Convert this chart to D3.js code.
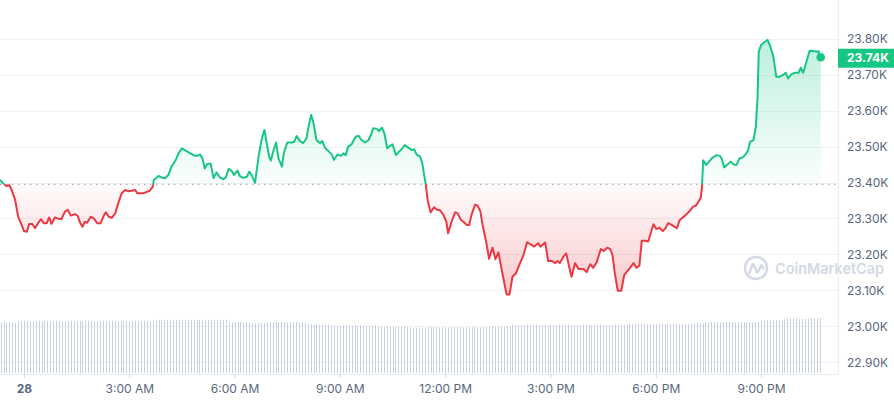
<!DOCTYPE html>
<html>
<head>
<meta charset="utf-8">
<script src="https://cdn.jsdelivr.net/npm/d3@7"></script>
<style>
  html, body { margin: 0; padding: 0; background: #fff; }
  svg { display: block; font-family: Inter, "Noto Sans", sans-serif; }
</style>
</head>
<body>
<svg id="chart" width="894" height="400"></svg>
<script>
// ---- data (minutes after midnight, 28 Jan) ----
const priceTimes = [-41,-36,-30,-25,-21,-15,-10,-4,0,5,9,14,19,24,29,34,39,43,47,53,59,64,70,75,80,87,92,96,100,104,108,114,120,125,131,137,140,145,150,156,161,167,173,178,184,190,194,198,204,210,215,220,222,230,235,241,247,252,259,264,270,275,281,287,292,296,301,305,309,313,319,324,329,335,341,345,350,355,359,365,369,375,381,385,389,395,401,406,411,415,419,422,426,431,435,441,444,450,458,462,466,472,477,483,487,491,495,500,506,510,515,520,526,530,536,542,546,550,554,560,567,572,577,583,589,593,597,603,607,612,616,621,626,630,636,641,646,651,657,663,667,671,677,681,684,687,690,695,701,706,711,717,722,725,731,737,741,747,751,757,761,765,771,775,780,784,790,795,801,806,811,815,819,825,830,835,841,848,854,860,866,872,879,883,891,896,902,908,912,916,922,927,932,936,942,948,956,962,968,973,979,986,991,997,1002,1006,1010,1015,1021,1026,1030,1036,1042,1047,1052,1056,1062,1067,1076,1081,1086,1092,1097,1101,1107,1116,1121,1130,1138,1144,1149,1153,1157,1159,1161,1166,1171,1177,1184,1190,1193,1197,1202,1208,1214,1218,1223,1229,1234,1238,1241,1247,1251,1254,1256,1260,1265,1271,1275,1281,1286,1292,1298,1302,1306,1312,1318,1324,1328,1332,1338,1343,1350,1355,1358,1362];
const prices = [23407,23398,23390,23393,23379,23351,23305,23282,23265,23263,23285,23285,23273,23287,23298,23287,23287,23303,23285,23303,23299,23298,23319,23324,23308,23312,23307,23288,23277,23291,23288,23305,23299,23287,23287,23310,23317,23305,23302,23314,23342,23370,23379,23376,23377,23379,23370,23370,23370,23374,23377,23388,23407,23418,23414,23412,23421,23444,23461,23481,23495,23490,23484,23479,23474,23474,23478,23467,23439,23451,23453,23412,23428,23414,23409,23414,23438,23432,23421,23433,23418,23413,23416,23430,23421,23399,23472,23518,23546,23509,23472,23461,23486,23511,23467,23444,23481,23511,23511,23513,23529,23515,23509,23523,23560,23588,23564,23518,23509,23515,23495,23488,23478,23463,23478,23474,23481,23476,23499,23506,23527,23530,23518,23511,23518,23532,23551,23549,23543,23552,23537,23495,23502,23506,23476,23486,23493,23504,23497,23490,23492,23478,23472,23453,23421,23393,23351,23317,23331,23324,23323,23310,23291,23259,23291,23317,23315,23296,23291,23282,23282,23310,23338,23336,23321,23282,23236,23188,23219,23187,23206,23171,23138,23089,23089,23138,23148,23176,23199,23234,23228,23222,23231,23222,23233,23182,23182,23176,23182,23176,23194,23203,23165,23138,23176,23160,23160,23151,23173,23163,23178,23215,23210,23219,23215,23199,23148,23099,23099,23143,23151,23163,23176,23163,23169,23238,23238,23236,23284,23271,23274,23265,23274,23287,23282,23273,23296,23308,23321,23333,23336,23347,23358,23388,23462,23449,23458,23469,23476,23474,23464,23442,23449,23458,23449,23449,23467,23470,23479,23490,23513,23518,23555,23638,23763,23782,23789,23796,23782,23749,23694,23694,23699,23705,23689,23701,23705,23705,23719,23705,23738,23766,23765,23763,23765,23748];
const referencePrice = 23395;

// volume bars (billions USD), one every 5 minutes from -40 min
const volumeStartMinute = -40;
const volumeStepMinutes = 5;
const volumes = [
 18.9,18.9,18.9,18.9,18.9,18.9,
 19.4,19.4,19.4,19.4,19.4,19.4,19.4,19.4,19.4,19.4,
 19.4,19.4,19.4,19.4,19.4,19.4,19.4,19.4,19.4,19.4,
 19.4,19.4,19.4,19.4,19.4,19.4,19.4,19.4,19.4,19.4,
 19.4,19.4,19.4,19.4,19.4,19.4,19.4,19.4,19.4,19.4,
 19.4,19.4,19.4,19.4,19.4,19.4,19.4,
 19.8,19.8,19.8,19.8,19.8,19.8,19.8,19.8,19.8,19.8,
 19.8,19.8,19.8,19.8,19.8,19.8,19.8,19.8,19.8,19.8,
 19.8,19.8,19.8,19.8,19.8,
 19.0,19.0,19.0,19.0,19.0,
 18.7,18.7,18.7,18.7,18.7,18.7,18.7,18.7,
 19.0,19.0,19.0,19.0,19.0,19.0,19.0,19.0,19.0,19.0,19.0,
 18.7,18.7,18.7,
 18.3,18.3,
 18.0,18.0,18.0,18.0,18.0,18.0,
 17.7,17.7,17.7,17.7,17.7,17.7,17.7,17.7,17.7,17.7,17.7,17.7,17.7,17.7,17.7,17.7,
 17.3,17.3,17.3,17.3,17.3,17.3,17.3,17.3,17.3,17.3,17.3,17.3,
 16.9,16.9,16.9,16.9,16.9,
 17.1,17.1,17.1,17.1,17.1,17.1,17.1,17.1,17.1,17.1,
 17.1,17.1,17.1,17.1,17.1,17.1,17.1,17.1,17.1,17.1,17.1,
 17.4,17.4,17.4,17.4,17.4,17.4,17.4,17.4,
 17.9,17.9,17.9,17.9,17.9,17.9,17.9,17.9,17.9,17.9,
 17.9,17.9,17.9,17.9,17.9,17.9,17.9,17.9,17.9,17.9,
 17.9,17.9,17.9,17.9,17.9,17.9,17.9,17.9,17.9,17.9,
 17.9,17.9,17.9,17.9,17.9,17.9,17.9,17.9,17.9,17.9,
 18.3,18.3,18.3,18.3,18.3,18.3,18.3,18.3,18.3,18.3,
 18.3,18.3,18.3,18.3,18.3,18.3,18.3,18.3,18.3,18.3,
 18.3,18.3,18.3,
 18.7,18.7,18.7,18.7,18.7,
 19.0,19.0,19.0,19.0,19.0,19.0,19.0,19.0,19.0,19.0,
 19.0,19.0,19.0,19.0,19.0,19.0,19.0,
 19.7,19.7,19.7,19.7,19.7,19.7,19.7,19.7,
 20.2,20.2,20.2,20.2,20.2,20.2,20.2,20.2,20.2,
 20.5,20.5,20.5,20.5
];

const yTickValues = [22900,23000,23100,23200,23300,23400,23500,23600,23700,23800];
const xTickHours = [0,3,6,9,12,15,18,21];
const lastPriceLabel = "23.74K";
const watermarkText = "CoinMarketCap";

// ---- setup ----
const GREEN = "#16c784", RED = "#ea3943";
const base = new Date(2023, 0, 28, 0, 0, 0);
const minToDate = m => new Date(base.getTime() + m * 60000);

const svg = d3.select("#chart");
const plotW = 838, plotB = 374;

const x = d3.scaleTime().domain([minToDate(-41), minToDate(1391.5)]).range([0, plotW]);
const y = d3.scaleLinear().domain([22868, 23907]).range([plotB, 0]);
const yVol = d3.scaleLinear().domain([0, 28]).range([373, 298]);

const data = priceTimes.map((t, i) => ({ date: minToDate(t), v: prices[i] }));
const baseY = y(referencePrice);

const defs = svg.append("defs");
const gUp = defs.append("linearGradient").attr("id", "gUp")
  .attr("gradientUnits", "userSpaceOnUse").attr("x1", 0).attr("x2", 0)
  .attr("y1", y(23800)).attr("y2", baseY);
gUp.append("stop").attr("offset", 0).attr("stop-color", GREEN).attr("stop-opacity", 0.28);
gUp.append("stop").attr("offset", 1).attr("stop-color", GREEN).attr("stop-opacity", 0.02);
const gDn = defs.append("linearGradient").attr("id", "gDn")
  .attr("gradientUnits", "userSpaceOnUse").attr("x1", 0).attr("x2", 0)
  .attr("y1", baseY).attr("y2", y(23080));
gDn.append("stop").attr("offset", 0).attr("stop-color", RED).attr("stop-opacity", 0.02);
gDn.append("stop").attr("offset", 1).attr("stop-color", RED).attr("stop-opacity", 0.28);

defs.append("clipPath").attr("id", "clipUp").append("rect")
  .attr("x", -5).attr("y", -5).attr("width", plotW + 10).attr("height", baseY + 5);
defs.append("clipPath").attr("id", "clipDn").append("rect")
  .attr("x", -5).attr("y", baseY).attr("width", plotW + 10).attr("height", plotB - baseY);

// gridlines
svg.append("g").selectAll("line").data(yTickValues).join("line")
  .attr("x1", 0).attr("x2", plotW)
  .attr("y1", d => Math.round(y(d)) + 0.5).attr("y2", d => Math.round(y(d)) + 0.5)
  .attr("stroke", "#eff2f5").attr("stroke-width", 1);

// frame: right and bottom
svg.append("line").attr("x1", plotW + 0.5).attr("x2", plotW + 0.5).attr("y1", 0).attr("y2", plotB)
  .attr("stroke", "#eaedf1");
svg.append("line").attr("x1", 0).attr("x2", plotW).attr("y1", plotB + 0.5).attr("y2", plotB + 0.5)
  .attr("stroke", "#eaedf1");

// volume bars
svg.append("g").selectAll("line").data(volumes).join("line")
  .attr("x1", (d, i) => Math.round(x(minToDate(volumeStartMinute + i * volumeStepMinutes))) + 0.5)
  .attr("x2", (d, i) => Math.round(x(minToDate(volumeStartMinute + i * volumeStepMinutes))) + 0.5)
  .attr("y1", yVol(0)).attr("y2", d => yVol(d))
  .attr("stroke", "#c9d1df").attr("stroke-width", 1);

// watermark
const wm = svg.append("g").attr("transform", "translate(756,268)");
wm.append("circle").attr("r", 11).attr("fill", "none").attr("stroke", "#d3d9e4").attr("stroke-width", 2.4);
wm.append("path")
  .attr("d", "M-6.5,5 L-3.6,-3.2 Q-3,-4.6 -2.2,-3.2 L0.6,3.6 Q1.4,5 2.2,3.4 L4.6,-1.8 Q5.4,-3.2 6.2,-1.8 L7,0.5")
  .attr("fill", "none").attr("stroke", "#d3d9e4").attr("stroke-width", 2.4)
  .attr("stroke-linecap", "round").attr("stroke-linejoin", "round");
svg.append("text").attr("x", 775).attr("y", 269).attr("dy", "0.36em")
  .attr("font-size", 15).attr("font-weight", 600).attr("fill", "#d3d9e4")
  .attr("textLength", 109).attr("lengthAdjust", "spacingAndGlyphs")
  .text(watermarkText);

// area + line
const area = d3.area().x(d => x(d.date)).y0(baseY).y1(d => y(d.v)).curve(d3.curveLinear);
const line = d3.line().x(d => x(d.date)).y(d => y(d.v)).curve(d3.curveLinear);

svg.append("path").datum(data).attr("d", area).attr("fill", "url(#gUp)").attr("clip-path", "url(#clipUp)");
svg.append("path").datum(data).attr("d", area).attr("fill", "url(#gDn)").attr("clip-path", "url(#clipDn)");

// reference dotted line
svg.append("line").attr("x1", 0).attr("x2", plotW).attr("y1", baseY).attr("y2", baseY)
  .attr("stroke", "#9aa3b5").attr("stroke-width", 1.3).attr("stroke-dasharray", "1.3 4.7");

svg.append("path").datum(data).attr("d", line).attr("fill", "none").attr("stroke", GREEN)
  .attr("stroke-width", 2).attr("stroke-linejoin", "round").attr("clip-path", "url(#clipUp)");
svg.append("path").datum(data).attr("d", line).attr("fill", "none").attr("stroke", RED)
  .attr("stroke-width", 2).attr("stroke-linejoin", "round").attr("clip-path", "url(#clipDn)");

// last point
const last = data[data.length - 1];
svg.append("circle").attr("cx", x(last.date)).attr("cy", y(last.v)).attr("r", 4.3).attr("fill", GREEN);

// y axis
const yAxis = d3.axisRight(y).tickValues(yTickValues).tickSize(0).tickPadding(9)
  .tickFormat(d => (d / 1000).toFixed(2) + "K");
const gy = svg.append("g").attr("transform", `translate(${plotW},0)`).call(yAxis);
gy.select(".domain").remove();
gy.selectAll("text").attr("fill", "#58667e").attr("font-size", 12).attr("font-family", "Inter, sans-serif");

// price tag
const tagY = y(last.v) + 1;
svg.append("rect").attr("x", plotW).attr("y", tagY - 9.5).attr("width", 56).attr("height", 19).attr("fill", GREEN);
svg.append("text").attr("x", plotW + 9).attr("y", tagY).attr("dy", "0.35em")
  .attr("fill", "#fff").attr("font-size", 12).attr("font-weight", 700).text(lastPriceLabel);

// x axis
const xAxis = d3.axisBottom(x).tickValues(xTickHours.map(h => minToDate(h * 60)))
  .tickSize(4).tickPadding(6)
  .tickFormat(d => d.getHours() === 0 ? d3.timeFormat("%-d")(d) : d3.timeFormat("%-I:%M %p")(d));
const gx = svg.append("g").attr("transform", `translate(0,${plotB})`).call(xAxis);
gx.select(".domain").remove();
gx.selectAll("line").attr("stroke", "#d5dae3");
gx.selectAll("text").attr("fill", "#58667e").attr("font-size", 12).attr("font-family", "Inter, sans-serif")
  .attr("font-weight", d => d.getHours() === 0 ? 700 : 400);
</script>
</body>
</html>
